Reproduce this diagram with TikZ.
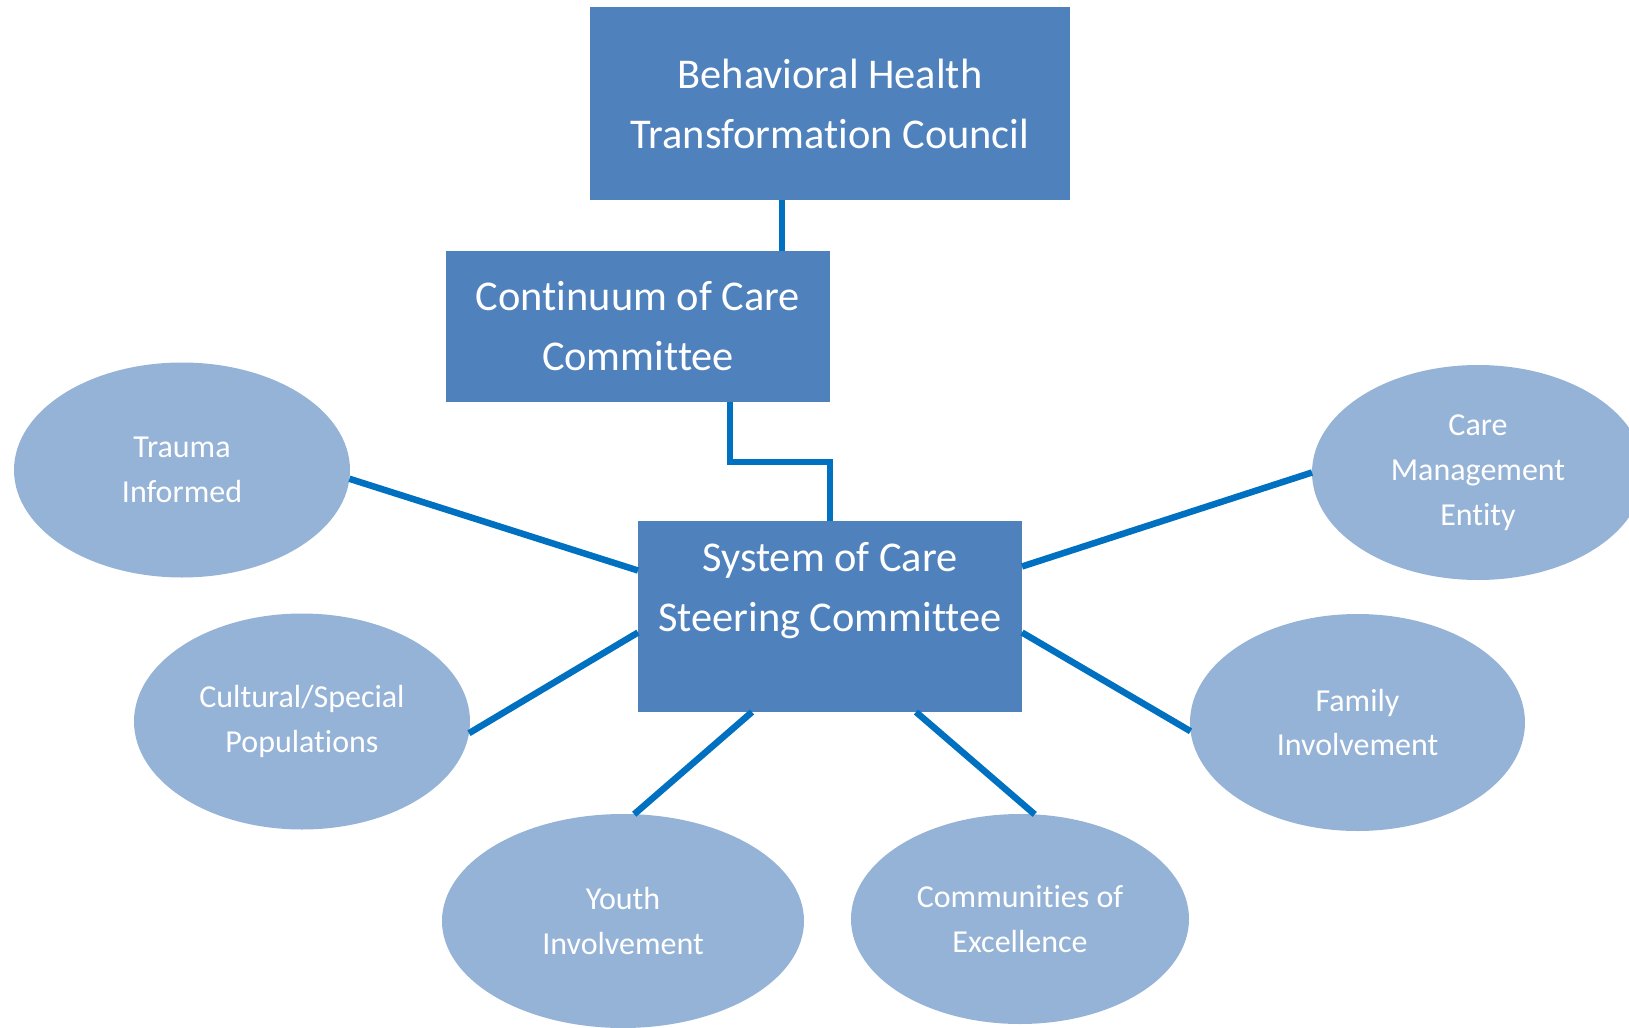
\documentclass[tikz,border=0pt]{standalone}
\usepackage{fontspec}
\setmainfont{Carlito}[Ligatures={NoCommon,NoContextual,NoRequired},Contextuals=NoAlternate]
\usepackage{tikz}
\usetikzlibrary{shapes.geometric}

\definecolor{boxblue}{HTML}{4F81BD}
\definecolor{ovalblue}{HTML}{95B3D7}
\definecolor{linkblue}{HTML}{0070C0}

\begin{document}
\begin{tikzpicture}[x=0.5pt, y=-0.5pt,
  board/.style={rectangle, fill=boxblue, text=white, align=center,
    inner sep=0pt, outer sep=0pt, font=\fontsize{21.2}{30}\selectfont},
  group/.style={ellipse, fill=ovalblue, text=white, align=center,
    inner sep=0pt, outer sep=0pt, font=\fontsize{16}{22.4}\selectfont},
  link/.style={draw=linkblue, line width=3.25pt}]
\useasboundingbox (0,0) rectangle (1629,1028);

% committees
\node[board, minimum width=240pt, minimum height=96.5pt] (bhtc) at (830,103.5)
  {Behavioral Health\\Transformation Council};
\node[board, minimum width=192pt, minimum height=75.5pt] (cocc) at (638,326.5)
  {Continuum of Care\\Committee};
\node[board, minimum width=192pt, minimum height=95.5pt] (soc) at (830,616.5)
  {System of Care\\Steering Committee\\~};

% workgroups
\node[group, minimum width=168pt, minimum height=107.5pt] (trauma) at (182,470) {Trauma\\Informed};
\node[group, minimum width=168pt, minimum height=108pt] (cultural) at (302,721.5) {Cultural/Special\\Populations};
\node[group, minimum width=181pt, minimum height=107pt] (youth) at (623,921) {Youth\\Involvement};
\node[group, minimum width=169pt, minimum height=105pt] (coe) at (1020,919) {Communities of\\Excellence};
\node[group, minimum width=167.5pt, minimum height=108.5pt] (family) at (1357.5,722.5) {Family\\Involvement};
\node[group, minimum width=166pt, minimum height=107.5pt] (cme) at (1478,472.5) {Care\\Management\\Entity};

\draw[link] ([xshift=-24pt]bhtc.south) -- ([xshift=72pt]cocc.north);
\draw[link] ([xshift=46pt]cocc.south) -- ++(0,60) -| (soc.north);

\draw[link] ([yshift=23pt]soc.west) -- (trauma.-3);
\draw[link] ([yshift=-8pt]soc.west) -- (cultural.-4);
\draw[link] ([xshift=-39pt]soc.south) -- (youth.84);
\draw[link] ([xshift=43pt]soc.south) -- (coe.82);
\draw[link] ([yshift=-8pt]soc.east) -- (family.183);
\draw[link] ([yshift=25pt]soc.east) -- (cme.west);

\end{tikzpicture}
\end{document}
